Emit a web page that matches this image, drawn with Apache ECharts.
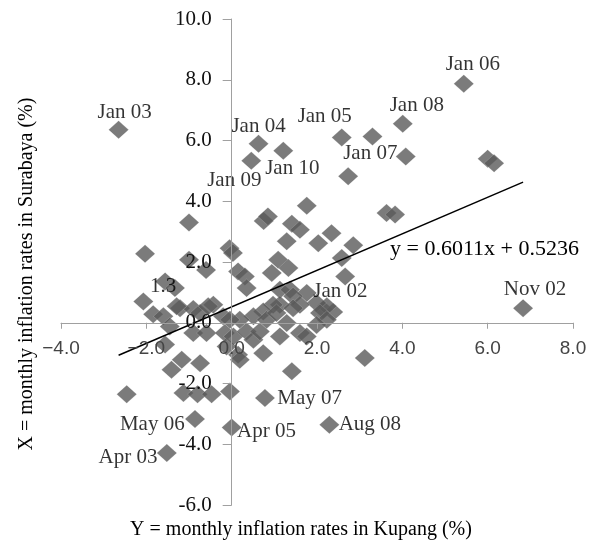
<!DOCTYPE html>
<html>
<head>
<meta charset="utf-8">
<script src="https://cdn.jsdelivr.net/npm/echarts@6/dist/echarts.min.js"></script>
<style>html,body{margin:0;padding:0;background:#fff}#c{width:598px;height:546px}</style>
</head>
<body>
<div id="c"></div>
<script>
// Kupang (x) and Surabaya (y) monthly inflation rates (%). First 16 points carry labels.
const kupang = [
  -2.65, 0.63, 1.21, 0.46, 2.58, 5.44, 4.01, 4.08, 2.15, 6.83, 0.78, -0.86, 0.00, 2.29, -1.52, -1.56,
  3.30, 6.00, 6.15, 2.73, 1.76, 0.75, 0.85, -1.00, 1.41, 1.60, 3.63, 3.83, 1.29, 2.03,
  2.34, 2.85, 2.58, 2.66, -2.03, -1.00, -0.60, -0.05, 0.03, 0.15, 0.31, 0.35, 0.94, 1.09,
  1.33, 1.13, 1.37, -2.07, -1.33, -0.43, -1.84, -1.60, -1.21, -0.90, -0.74, 1.76, 2.38, 2.23,
  1.99, 1.44, 1.13, 1.60, 0.97, 0.74, 0.51, 0.19, -0.20, -0.04, -1.29, -0.55, -1.45, -0.90,
  -0.59, -0.16, -0.12, 0.15, 0.04, 0.35, 0.51, 0.66, 0.74, 0.82, 1.05, 1.13, 1.29, 1.44,
  1.60, 1.76, 2.07, 2.23, 1.99, -1.56, -1.17, -0.74, -1.41, 1.41, 3.12, -2.46, -1.13, -0.80,
  -0.47, -0.04, 0.19
];
const surabaya = [
  6.35, 5.89, 5.66, 5.33, 6.10, 7.87, 6.55, 5.47, 0.43, 0.48, -2.48, -3.17, -3.45, -3.36, -4.29, 1.36,
  6.13, 5.40, 5.25, 4.82, 3.85, 3.35, 3.50, 3.30, 3.26, 3.06, 3.61, 3.56, 2.68, 2.62,
  2.95, 2.55, 2.13, 1.52, 2.27, 2.07, 1.74, 2.45, 2.30, 1.69, 1.52, 1.14, 1.64, 2.07,
  1.80, 1.09, 1.09, 0.70, 1.14, 0.59, 0.28, 0.21, 0.48, 0.45, 0.32, 0.98, 0.35, 0.54,
  0.65, 0.87, 0.59, 0.59, 0.59, 0.37, 0.21, 0.10, 0.21, 0.10, 0.54, 0.54, -0.12, -0.34,
  -0.34, -0.34, -0.78, -1.05, -0.45, -0.29, -0.56, -0.29, -1.00, 0.10, 0.32, -0.45, -0.01, 0.48,
  -0.34, -0.45, 0.32, 0.10, -0.07, -0.72, -1.22, -1.33, -1.55, -1.60, -1.16, -2.35, -2.31, -2.35,
  -2.35, -2.26, -1.22
];
const pointLabels = ['Jan 03','Jan 04','Jan 10','Jan 09','Jan 05','Jan 06','Jan 08','Jan 07',
  'Jan 02','Nov 02','May 07','May 06','Apr 05','Aug 08','Apr 03','1.3'];
const xTicks = [-4, -2, 0, 2, 4, 6, 8];
const yTicks = [-6, -4, -2, 0, 2, 4, 6, 8, 10];
const slope = 0.6011, intercept = 0.5236;
const equationText = 'y = 0.6011x + 0.5236';
const xTitle = 'Y = monthly inflation rates in Kupang (%)';
const yTitle = 'X = monthly inflation rates in Surabaya (%)';

// label placement (style only)
const labelStyle = {
  'Jan 03': {position: 'top', distance: -2, offset: [6, 0]},
  'Jan 04': {position: 'top', distance: -2, offset: [0, 0]},
  'Jan 10': {position: 'bottom', distance: -2, offset: [9, 0]},
  'Jan 09': {position: 'bottom', distance: 0, offset: [-17, 0]},
  'Jan 05': {position: 'top', distance: 1, offset: [-17, 0]},
  'Jan 06': {position: 'top', distance: -1, offset: [9, 0]},
  'Jan 08': {position: 'top', distance: -1, offset: [14, 0]},
  'Jan 07': {position: 'left', distance: -2, offset: [0, -3]},
  'Jan 02': {position: 'top', distance: -2, offset: [17, 0]},
  'Nov 02': {position: 'top', distance: -1, offset: [12, 0]},
  'May 07': {position: 'right', distance: 2, offset: [0, 0]},
  'May 06': {position: 'left', distance: 0, offset: [0, 5]},
  'Apr 05': {position: 'right', distance: -5, offset: [0, 4]},
  'Aug 08': {position: 'right', distance: -1, offset: [0, 0]},
  'Apr 03': {position: 'left', distance: -1, offset: [0, 4]},
  '1.3':    {position: 'inside', distance: 0, offset: [-2, 5]}
};

const serif = '"Liberation Serif", "Times New Roman", serif';
const sans = '"Liberation Sans", Arial, sans-serif';

const pts = kupang.map((x, i) => {
  const d = {value: [x, surabaya[i]]};
  if (i < pointLabels.length) {
    const name = pointLabels[i];
    const s = labelStyle[name];
    d.label = {show: true, formatter: name, position: s.position, distance: s.distance, offset: s.offset,
      fontFamily: serif, fontSize: 21, color: '#000'};
  }
  return d;
});

const xMinData = Math.min(...kupang), xMaxData = Math.max(...kupang);
const trend = [[xMinData, slope * xMinData + intercept], [xMaxData, slope * xMaxData + intercept]];

// grid geometry and axis crossing at zero
const W = 598, H = 546;
const gLeft = 61, gRight = 25, gTop = 19, gBottom = 41;
const xMin = xTicks[0], xMax = xTicks[xTicks.length - 1];
const yMin = yTicks[0], yMax = yTicks[yTicks.length - 1];
const plotW = W - gLeft - gRight, plotH = H - gTop - gBottom;
const yAxisShift = plotW * (0 - xMin) / (xMax - xMin);
const xAxisShift = plotH * (0 - yMin) / (yMax - yMin);

const chart = echarts.init(document.getElementById('c'), null, {renderer: 'canvas'});
chart.setOption({
  animation: false,
  backgroundColor: '#fff',
  grid: {left: gLeft, right: gRight, top: gTop, bottom: gBottom, containLabel: false},
  xAxis: {
    type: 'value', min: xMin, max: xMax, interval: 2, z: 4, position: 'bottom', offset: -xAxisShift,
    axisLine: {onZero: false, lineStyle: {color: '#a0a0a0', width: 1}},
    axisTick: {show: true, inside: false, length: 6, lineStyle: {color: '#a0a0a0'}},
    axisLabel: {margin: 17, fontFamily: sans, fontSize: 19, color: '#444',
      formatter: v => (v < 0 ? '\u2212' : '') + Math.abs(v).toFixed(1)},
    splitLine: {show: false}
  },
  yAxis: {
    type: 'value', min: yMin, max: yMax, interval: 2, z: 4, position: 'left', offset: -yAxisShift,
    axisLine: {onZero: false, lineStyle: {color: '#a0a0a0', width: 1}},
    axisTick: {show: true, inside: false, length: 9, lineStyle: {color: '#a0a0a0'}},
    axisLabel: {margin: 20, fontFamily: serif, fontSize: 21, color: '#111',
      formatter: v => v.toFixed(1)},
    splitLine: {show: false}
  },
  series: [
    {
      type: 'scatter', symbol: 'diamond', symbolSize: [20, 18], z: 2,
      itemStyle: {color: '#5a5a5a', borderColor: 'rgba(255,255,255,0.35)', borderWidth: 0.6},
      data: pts
    },
    {
      type: 'line', data: trend, showSymbol: false, symbol: 'none', z: 3, silent: true,
      lineStyle: {color: '#000', width: 1.5}
    }
  ],
  graphic: [
    {type: 'text', left: 390, top: 238, z: 10,
      style: {text: equationText, font: '22px ' + serif, fill: '#000'}},
    {type: 'text', x: 301, y: 530, z: 10,
      style: {text: xTitle, font: '20px ' + serif, fill: '#000', align: 'center', verticalAlign: 'middle'}},
    {type: 'text', x: 27, y: 274, rotation: Math.PI / 2, z: 10,
      style: {text: yTitle, font: '20px ' + serif, fill: '#000', align: 'center', verticalAlign: 'middle'}}
  ]
});
</script>
</body>
</html>
